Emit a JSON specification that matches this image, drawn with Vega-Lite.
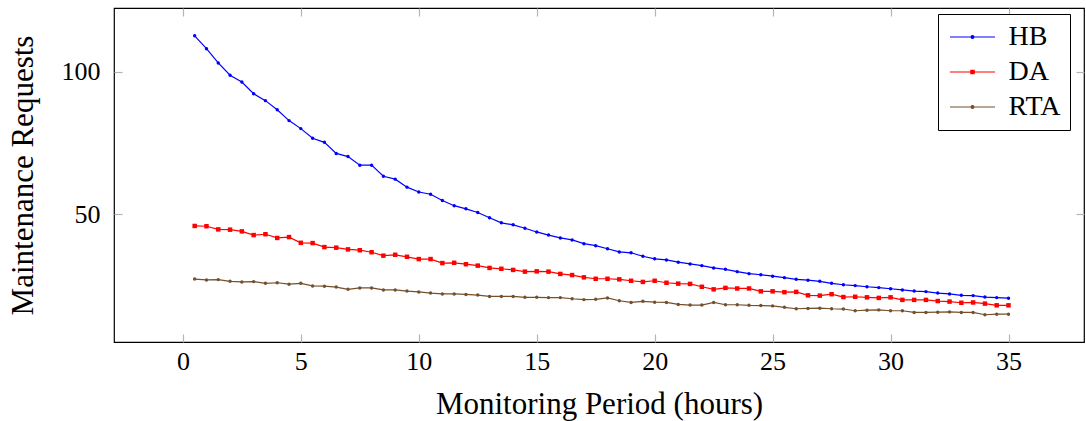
{
"$schema": "https://vega.github.io/schema/vega-lite/v6.json",
"width": 970, "height": 334,
"autosize": "none",
"padding": {"left": 114, "top": 8, "right": 2, "bottom": 79},
"background": "white",
"config": {
  "view": {"stroke": "black", "strokeWidth": 1.2},
  "font": "Liberation Serif",
  "axis": {"grid": false, "domain": false, "tickColor": "#b4b4b4", "tickWidth": 1.2, "tickSize": -8, "labelColor": "black", "titleColor": "black", "labelFont": "Liberation Serif", "titleFont": "Liberation Serif", "labelFontSize": 26, "titleFontSize": 31, "titleFontWeight": "normal"}
},
"data": {"values": [
{"t":0.5,"s":"HB","v":112.5},{"t":1,"s":"HB","v":108.0},{"t":1.5,"s":"HB","v":103.0},{"t":2,"s":"HB","v":98.7},{"t":2.5,"s":"HB","v":96.3},{"t":3,"s":"HB","v":92.2},{"t":3.5,"s":"HB","v":89.8},{"t":4,"s":"HB","v":86.6},{"t":4.5,"s":"HB","v":82.8},{"t":5,"s":"HB","v":80.0},
{"t":5.5,"s":"HB","v":76.6},{"t":6,"s":"HB","v":75.2},{"t":6.5,"s":"HB","v":71.3},{"t":7,"s":"HB","v":70.2},{"t":7.5,"s":"HB","v":67.2},{"t":8,"s":"HB","v":67.2},{"t":8.5,"s":"HB","v":63.3},{"t":9,"s":"HB","v":62.3},{"t":9.5,"s":"HB","v":59.5},{"t":10,"s":"HB","v":57.8},
{"t":10.5,"s":"HB","v":57.0},{"t":11,"s":"HB","v":54.8},{"t":11.5,"s":"HB","v":53.0},{"t":12,"s":"HB","v":51.9},{"t":12.5,"s":"HB","v":50.6},{"t":13,"s":"HB","v":48.8},{"t":13.5,"s":"HB","v":47.0},{"t":14,"s":"HB","v":46.3},{"t":14.5,"s":"HB","v":45.1},{"t":15,"s":"HB","v":43.8},
{"t":15.5,"s":"HB","v":42.7},{"t":16,"s":"HB","v":41.7},{"t":16.5,"s":"HB","v":41.0},{"t":17,"s":"HB","v":39.7},{"t":17.5,"s":"HB","v":39.0},{"t":18,"s":"HB","v":37.9},{"t":18.5,"s":"HB","v":36.8},{"t":19,"s":"HB","v":36.5},{"t":19.5,"s":"HB","v":35.3},{"t":20,"s":"HB","v":34.4},
{"t":20.5,"s":"HB","v":34.0},{"t":21,"s":"HB","v":33.2},{"t":21.5,"s":"HB","v":32.6},{"t":22,"s":"HB","v":32.0},{"t":22.5,"s":"HB","v":31.2},{"t":23,"s":"HB","v":30.7},{"t":23.5,"s":"HB","v":29.9},{"t":24,"s":"HB","v":29.2},{"t":24.5,"s":"HB","v":28.8},{"t":25,"s":"HB","v":28.3},
{"t":25.5,"s":"HB","v":27.8},{"t":26,"s":"HB","v":27.2},{"t":26.5,"s":"HB","v":26.9},{"t":27,"s":"HB","v":26.5},{"t":27.5,"s":"HB","v":25.8},{"t":28,"s":"HB","v":25.3},{"t":28.5,"s":"HB","v":25.0},{"t":29,"s":"HB","v":24.6},{"t":29.5,"s":"HB","v":24.3},{"t":30,"s":"HB","v":23.9},
{"t":30.5,"s":"HB","v":23.5},{"t":31,"s":"HB","v":23.1},{"t":31.5,"s":"HB","v":22.9},{"t":32,"s":"HB","v":22.4},{"t":32.5,"s":"HB","v":22.1},{"t":33,"s":"HB","v":21.6},{"t":33.5,"s":"HB","v":21.5},{"t":34,"s":"HB","v":21.0},{"t":34.5,"s":"HB","v":20.8},{"t":35,"s":"HB","v":20.6},
{"t":0.5,"s":"DA","v":45.9},{"t":1,"s":"DA","v":45.8},{"t":1.5,"s":"DA","v":44.7},{"t":2,"s":"DA","v":44.6},{"t":2.5,"s":"DA","v":44.0},{"t":3,"s":"DA","v":42.7},{"t":3.5,"s":"DA","v":43.0},{"t":4,"s":"DA","v":41.7},{"t":4.5,"s":"DA","v":42.0},{"t":5,"s":"DA","v":40.0},
{"t":5.5,"s":"DA","v":39.9},{"t":6,"s":"DA","v":38.5},{"t":6.5,"s":"DA","v":38.3},{"t":7,"s":"DA","v":37.7},{"t":7.5,"s":"DA","v":37.4},{"t":8,"s":"DA","v":36.7},{"t":8.5,"s":"DA","v":35.5},{"t":9,"s":"DA","v":35.8},{"t":9.5,"s":"DA","v":35.1},{"t":10,"s":"DA","v":34.3},
{"t":10.5,"s":"DA","v":34.3},{"t":11,"s":"DA","v":32.9},{"t":11.5,"s":"DA","v":33.0},{"t":12,"s":"DA","v":32.5},{"t":12.5,"s":"DA","v":32.0},{"t":13,"s":"DA","v":31.2},{"t":13.5,"s":"DA","v":30.9},{"t":14,"s":"DA","v":30.5},{"t":14.5,"s":"DA","v":29.9},{"t":15,"s":"DA","v":30.0},
{"t":15.5,"s":"DA","v":29.9},{"t":16,"s":"DA","v":29.1},{"t":16.5,"s":"DA","v":28.7},{"t":17,"s":"DA","v":27.9},{"t":17.5,"s":"DA","v":27.4},{"t":18,"s":"DA","v":27.4},{"t":18.5,"s":"DA","v":27.2},{"t":19,"s":"DA","v":26.7},{"t":19.5,"s":"DA","v":26.3},{"t":20,"s":"DA","v":26.7},
{"t":20.5,"s":"DA","v":26.0},{"t":21,"s":"DA","v":25.7},{"t":21.5,"s":"DA","v":25.6},{"t":22,"s":"DA","v":24.6},{"t":22.5,"s":"DA","v":23.7},{"t":23,"s":"DA","v":24.2},{"t":23.5,"s":"DA","v":24.0},{"t":24,"s":"DA","v":24.0},{"t":24.5,"s":"DA","v":23.0},{"t":25,"s":"DA","v":23.0},
{"t":25.5,"s":"DA","v":22.7},{"t":26,"s":"DA","v":22.8},{"t":26.5,"s":"DA","v":21.6},{"t":27,"s":"DA","v":21.5},{"t":27.5,"s":"DA","v":22.0},{"t":28,"s":"DA","v":21.0},{"t":28.5,"s":"DA","v":21.1},{"t":29,"s":"DA","v":20.9},{"t":29.5,"s":"DA","v":20.7},{"t":30,"s":"DA","v":20.9},
{"t":30.5,"s":"DA","v":20.0},{"t":31,"s":"DA","v":20.0},{"t":31.5,"s":"DA","v":20.0},{"t":32,"s":"DA","v":19.6},{"t":32.5,"s":"DA","v":19.4},{"t":33,"s":"DA","v":19.0},{"t":33.5,"s":"DA","v":19.1},{"t":34,"s":"DA","v":18.7},{"t":34.5,"s":"DA","v":18.1},{"t":35,"s":"DA","v":18.1},
{"t":0.5,"s":"RTA","v":27.3},{"t":1,"s":"RTA","v":27.0},{"t":1.5,"s":"RTA","v":27.1},{"t":2,"s":"RTA","v":26.5},{"t":2.5,"s":"RTA","v":26.3},{"t":3,"s":"RTA","v":26.4},{"t":3.5,"s":"RTA","v":25.8},{"t":4,"s":"RTA","v":26.0},{"t":4.5,"s":"RTA","v":25.5},{"t":5,"s":"RTA","v":25.8},
{"t":5.5,"s":"RTA","v":24.9},{"t":6,"s":"RTA","v":24.8},{"t":6.5,"s":"RTA","v":24.5},{"t":7,"s":"RTA","v":23.7},{"t":7.5,"s":"RTA","v":24.2},{"t":8,"s":"RTA","v":24.2},{"t":8.5,"s":"RTA","v":23.5},{"t":9,"s":"RTA","v":23.5},{"t":9.5,"s":"RTA","v":23.1},{"t":10,"s":"RTA","v":22.8},
{"t":10.5,"s":"RTA","v":22.4},{"t":11,"s":"RTA","v":22.1},{"t":11.5,"s":"RTA","v":22.1},{"t":12,"s":"RTA","v":21.9},{"t":12.5,"s":"RTA","v":21.7},{"t":13,"s":"RTA","v":21.2},{"t":13.5,"s":"RTA","v":21.2},{"t":14,"s":"RTA","v":21.2},{"t":14.5,"s":"RTA","v":20.9},{"t":15,"s":"RTA","v":20.9},
{"t":15.5,"s":"RTA","v":20.8},{"t":16,"s":"RTA","v":20.8},{"t":16.5,"s":"RTA","v":20.4},{"t":17,"s":"RTA","v":20.1},{"t":17.5,"s":"RTA","v":20.2},{"t":18,"s":"RTA","v":20.7},{"t":18.5,"s":"RTA","v":19.7},{"t":19,"s":"RTA","v":19.1},{"t":19.5,"s":"RTA","v":19.5},{"t":20,"s":"RTA","v":19.2},
{"t":20.5,"s":"RTA","v":19.1},{"t":21,"s":"RTA","v":18.4},{"t":21.5,"s":"RTA","v":18.2},{"t":22,"s":"RTA","v":18.2},{"t":22.5,"s":"RTA","v":19.1},{"t":23,"s":"RTA","v":18.3},{"t":23.5,"s":"RTA","v":18.3},{"t":24,"s":"RTA","v":18.1},{"t":24.5,"s":"RTA","v":18.0},{"t":25,"s":"RTA","v":17.9},
{"t":25.5,"s":"RTA","v":17.4},{"t":26,"s":"RTA","v":16.9},{"t":26.5,"s":"RTA","v":17.0},{"t":27,"s":"RTA","v":17.1},{"t":27.5,"s":"RTA","v":16.9},{"t":28,"s":"RTA","v":16.8},{"t":28.5,"s":"RTA","v":16.2},{"t":29,"s":"RTA","v":16.4},{"t":29.5,"s":"RTA","v":16.5},{"t":30,"s":"RTA","v":16.2},
{"t":30.5,"s":"RTA","v":16.2},{"t":31,"s":"RTA","v":15.6},{"t":31.5,"s":"RTA","v":15.6},{"t":32,"s":"RTA","v":15.7},{"t":32.5,"s":"RTA","v":15.8},{"t":33,"s":"RTA","v":15.6},{"t":33.5,"s":"RTA","v":15.6},{"t":34,"s":"RTA","v":14.8},{"t":34.5,"s":"RTA","v":15.0},{"t":35,"s":"RTA","v":15.0}
]},
"layer": [
  {
    "mark": {"type": "line", "strokeWidth": 1.2},
    "encoding": {
      "x": {"field": "t", "type": "quantitative", "scale": {"domain": [-2.92, 38.2], "nice": false, "zero": false},
            "axis": {"orient": "bottom", "values": [0,5,10,15,20,25,30,35], "title": "Monitoring Period (hours)", "labelPadding": 14, "titlePadding": 15}},
      "y": {"field": "v", "type": "quantitative", "scale": {"domain": [5.25, 122.25], "nice": false, "zero": false},
            "axis": {"orient": "left", "values": [50, 100], "title": "Maintenance Requests", "labelPadding": 22, "titlePadding": 22}},
      "color": {"field": "s", "type": "nominal",
        "scale": {"domain": ["HB", "DA", "RTA"], "range": ["#0000ff", "#ff0000", "#74502c"]},
        "legend": {"title": null, "orient": "none", "legendX": 824, "legendY": 6,
          "strokeColor": "black", "fillColor": "white", "padding": 9, "cornerRadius": 0,
          "labelFont": "Liberation Serif", "labelFontSize": 28, "labelColor": "black", "labelOffset": 22,
          "symbolType": "M-2.05,0L2.05,0M-0.15,-0.15L0.15,-0.15L0.15,0.15L-0.15,0.15Z", "symbolSize": 484, "symbolStrokeWidth": 1.2, "symbolOffset": 11.5,
          "rowPadding": 7,
          "encode": {"symbols": {"update": {
            "shape": {"signal": "datum.value === 'DA' ? 'M-2.05,0L2.05,0M-0.15,-0.15L0.15,-0.15L0.15,0.15L-0.15,0.15Z' : 'M-2.05,0L2.05,0M-0.13,0A0.13,0.13 0 1,0 0.13,0A0.13,0.13 0 1,0 -0.13,0Z'"},
            "fill": {"scale": "color", "field": "value"}, "stroke": {"scale": "color", "field": "value"}, "strokeWidth": {"value": 1.2}, "opacity": {"value": 1}}}}}
      }
    }
  },
  {
    "transform": [{"filter": "datum.s !== 'DA'"}],
    "mark": {"type": "point", "filled": true, "opacity": 1, "shape": "circle", "size": 12},
    "encoding": {
      "x": {"field": "t", "type": "quantitative", "axis": {"orient": "top", "values": [0,5,10,15,20,25,30,35], "labels": false, "title": null}},
      "y": {"field": "v", "type": "quantitative", "axis": {"orient": "right", "values": [50, 100], "labels": false, "title": null}},
      "color": {"field": "s", "type": "nominal", "legend": null}
    }
  },
  {
    "transform": [{"filter": "datum.s === 'DA'"}],
    "mark": {"type": "point", "filled": true, "opacity": 1, "shape": "square", "size": 20},
    "encoding": {
      "x": {"field": "t", "type": "quantitative", "axis": null},
      "y": {"field": "v", "type": "quantitative", "axis": null},
      "color": {"field": "s", "type": "nominal", "legend": null}
    }
  }
],
"resolve": {"axis": {"x": "independent", "y": "independent"}}
}
